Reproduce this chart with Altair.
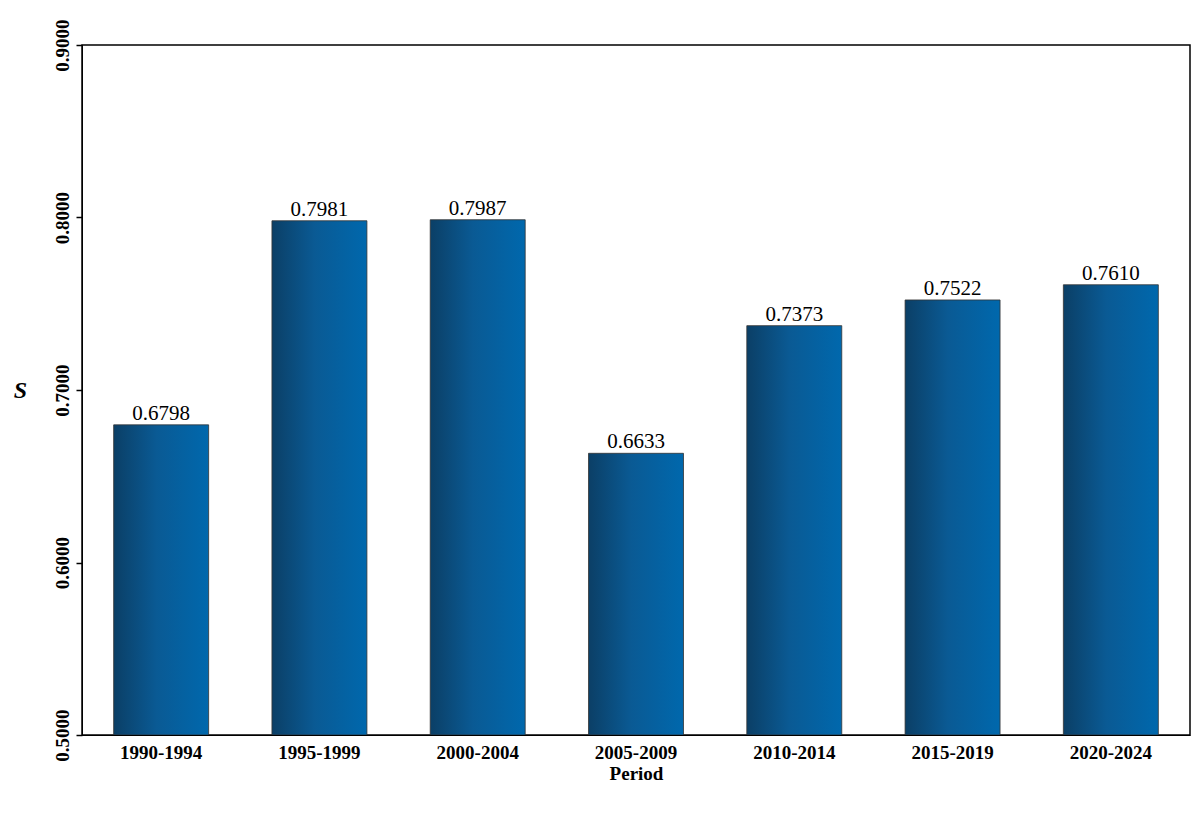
import pandas as pd
import altair as alt

periods = ["1990-1994", "1995-1999", "2000-2004", "2005-2009", "2010-2014", "2015-2019", "2020-2024"]
values = [0.6798, 0.7981, 0.7987, 0.6633, 0.7373, 0.7522, 0.7610]

data = pd.DataFrame({"Period": periods, "S": values})
data["label"] = data["S"].map(lambda v: f"{v:.4f}")
data["base"] = 0.5

font = "Liberation Serif"
grad = alt.Gradient(
    gradient="linear", x1=0, x2=1, y1=0, y2=0,
    stops=[alt.GradientStop(color="#0b3f66", offset=0),
           alt.GradientStop(color="#0a5a94", offset=0.45),
           alt.GradientStop(color="#0068ad", offset=1)],
)

base = alt.Chart(data).encode(
    x=alt.X("Period:N", sort=periods, title="Period",
            scale=alt.Scale(paddingInner=0.4, paddingOuter=0.2),
            axis=alt.Axis(labelAngle=0, labelFont=font, labelFontSize=19, labelFontWeight="bold",
                          titleFont=font, titleFontSize=19, titleFontWeight="bold",
                          labelColor="black", titleColor="black", domainColor="black",
                          tickColor="black", ticks=False, labelPadding=8, titlePadding=2)),
)

bars = base.mark_bar(color=grad, stroke="#333333", strokeWidth=0.8, clip=True).encode(
    y=alt.Y("S:Q", title="S", scale=alt.Scale(domain=[0.5, 0.9], zero=False),
            axis=alt.Axis(values=[0.5, 0.6, 0.7, 0.8, 0.9], format=".4f", grid=False,
                          labelAngle=-90, labelAlign="center", labelBaseline="bottom",
                          labelFont=font, labelFontSize=19, labelFontWeight="bold",
                          titleFont=font, titleFontSize=24, titleFontWeight="bold",
                          titleFontStyle="italic", titleAngle=0, titleX=-62, titleY=357,
                          labelColor="black", titleColor="black", domainColor="black",
                          tickColor="black", tickSize=6, tickWidth=1.5, labelPadding=4)),
    y2="base:Q",
)

text = base.mark_text(dy=-11, font=font, fontSize=21, color="black").encode(
    y="S:Q", text="label:N"
)

chart = (bars + text).properties(
    width=1108, height=690,
    autosize="none",
    padding={"left": 74, "top": 37, "right": 3, "bottom": 70},
).configure_view(stroke="black", strokeWidth=1.5)

chart.save("out.html", embed_options={"renderer": "svg", "actions": False})
